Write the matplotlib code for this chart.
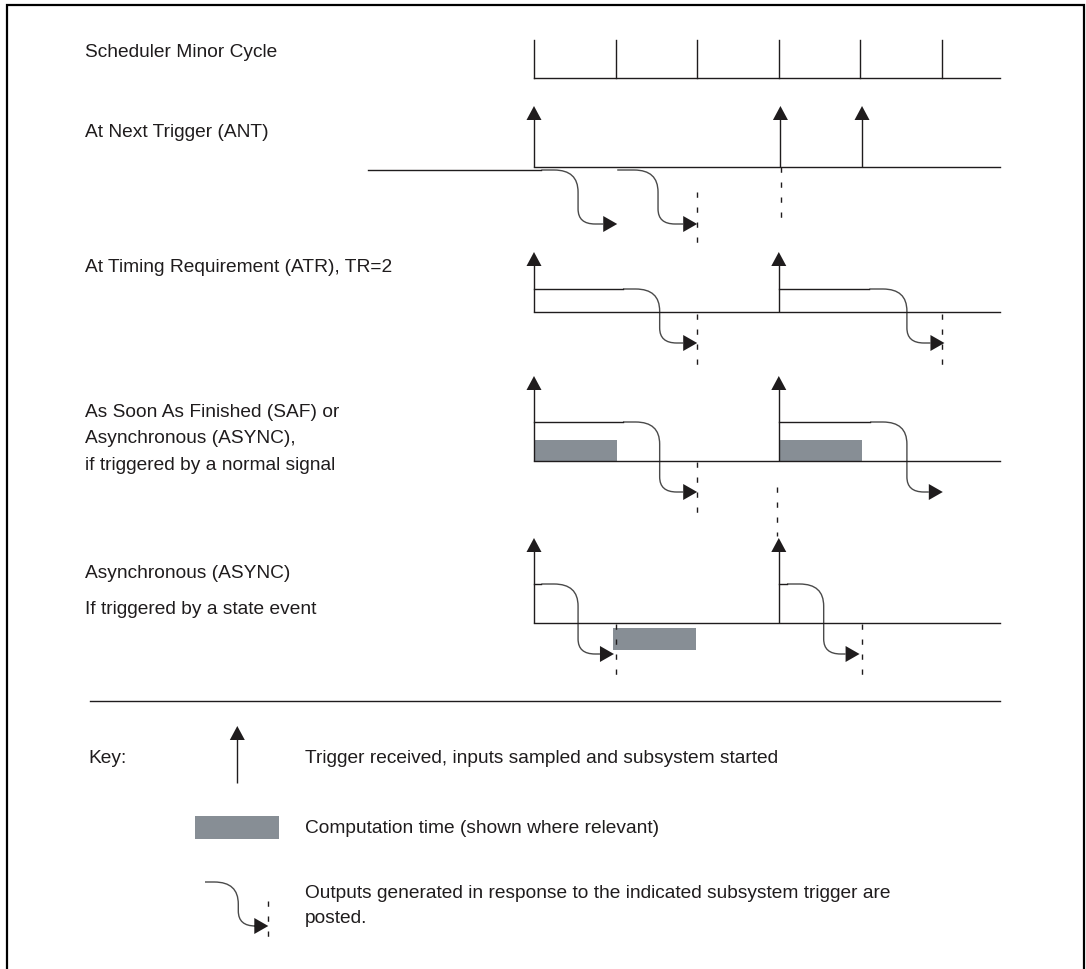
"""Subsystem trigger timing diagram (scheduler minor cycle vs trigger modes)."""

import matplotlib
matplotlib.use("Agg")
import matplotlib.pyplot as plt
from matplotlib.path import Path
from matplotlib.patches import PathPatch, Polygon, Rectangle

# x is in scheduler minor cycles (t=0 is the first cycle tick), y in pixels from the top
CYCLE_PX = 81.6
T0_PX = 534
INK = "#1f1c1d"
CURVE = "#4a4a4a"
BOX = "#878e95"
FONT = "Liberation Sans"
FS = 13.8

minor_cycle_ticks = [0, 1, 2, 3, 4, 5]
timeline_end = 5.71

row_labels = [
    ["Scheduler Minor Cycle"],
    ["At Next Trigger (ANT)"],
    ["At Timing Requirement (ATR), TR=2"],
    ["As Soon As Finished (SAF) or", "Asynchronous (ASYNC),", "if triggered by a normal signal"],
    ["Asynchronous (ASYNC)", "If triggered by a state event"],
]
label_baselines = [57, 137, 272, [417, 443, 470], [578, 614]]

# trigger times per mode
ant_triggers = [0, 3.02, 4.02]
atr_triggers = [0, 3]
saf_triggers = [0, 3]
async_triggers = [0, 3]

# outputs: (curve start, bend, arrow tip)
ant_outputs = [(0.09, 0.54, 1.02), (1.02, 1.52, 2.0)]
atr_outputs = [(1.09, 1.54, 2.0), (4.11, 4.57, 5.03)]
saf_outputs = [(1.09, 1.54, 2.0), (4.12, 4.57, 5.01)]
async_outputs = [(0.09, 0.54, 0.98), (3.1, 3.55, 3.99)]

# computation time bars: (start, end)
saf_compute = [(0, 1.02), (3, 4.02)]
async_compute = [(0.97, 1.98)]

# posting markers: (t, top, bottom)
ant_posts = [(2.0, 193, 252), (3.03, 168, 228)]
atr_posts = [(2.0, 315, 373), (5.0, 315, 373)]
saf_posts = [(2.0, 463, 520), (2.98, 488, 537)]
async_posts = [(1.01, 625, 685), (4.02, 625, 685)]

key_labels = [
    "Trigger received, inputs sampled and subsystem started",
    "Computation time (shown where relevant)",
    "Outputs generated in response to the indicated subsystem trigger are\nposted.",
]

HW_TRIG = 7.5 / CYCLE_PX
H_TRIG = 14
L_OUT = 14 / CYCLE_PX


def trigger(ax, t, y_base, y_tip):
    ax.plot([t, t], [y_base, y_tip + H_TRIG - 1], color=INK, lw=1.0, solid_capstyle="butt")
    ax.add_patch(Polygon([[t - HW_TRIG, y_tip + H_TRIG], [t + HW_TRIG, y_tip + H_TRIG], [t, y_tip]],
                         closed=True, color=INK, lw=0))


def output(ax, t0, tb, tip, y0, y1):
    rx1, ry1 = 24 / CYCLE_PX, 22
    rx2, ry2 = 17 / CYCLE_PX, 15
    verts = [(t0, y0), (tb - rx1, y0), (tb, y0), (tb, y0 + ry1), (tb, y1 - ry2),
             (tb, y1), (tb + rx2, y1), (tip - L_OUT, y1)]
    codes = [Path.MOVETO, Path.LINETO, Path.CURVE3, Path.CURVE3, Path.LINETO,
             Path.CURVE3, Path.CURVE3, Path.LINETO]
    ax.add_patch(PathPatch(Path(verts, codes), fill=False, ec=CURVE, lw=1.0))
    ax.add_patch(Polygon([[tip - L_OUT, y1 - 8], [tip - L_OUT, y1 + 8], [tip, y1]],
                         closed=True, color=INK, lw=0))


def post(ax, t, y_top, y_bot):
    ax.plot([t, t], [y_top, y_bot], color=INK, lw=1.0, dashes=(3.8, 7.0))


fig = plt.figure(figsize=(10.86, 9.70), dpi=100)
ax = fig.add_axes([0, 0, 1, 1])
ax.set_xlim(-T0_PX / CYCLE_PX, (1086 - T0_PX) / CYCLE_PX)
ax.set_ylim(970, 0)
ax.axis("off")

fig.add_artist(Rectangle((6.7 / 1086, -0.1), (1084 - 6.7) / 1086, 1.1 - 5.7 / 970,
                         transform=fig.transFigure, fill=False, ec="black", lw=1.6, clip_on=False))

# scheduler minor cycle
ax.plot([0, timeline_end], [79, 79], color=INK, lw=1.0)
for t in minor_cycle_ticks:
    ax.plot([t, t], [41, 79], color=INK, lw=1.0)

# ANT
ax.plot([0, timeline_end], [168, 168], color=INK, lw=1.0)
ax.plot([-2.03, ant_outputs[0][0]], [171, 171], color=INK, lw=1.0)
for t in ant_triggers:
    trigger(ax, t, 168, 107)
for o in ant_outputs:
    output(ax, *o, 171, 225)
for p in ant_posts:
    post(ax, *p)

# ATR
ax.plot([0, timeline_end], [313, 313], color=INK, lw=1.0)
for t, o in zip(atr_triggers, atr_outputs):
    trigger(ax, t, 313, 253)
    ax.plot([t, o[0]], [290, 290], color=INK, lw=1.0)
    output(ax, *o, 290, 344)
for p in atr_posts:
    post(ax, *p)

# SAF
for s, e in saf_compute:
    ax.add_patch(Rectangle((s, 441), e - s, 21, color=BOX, lw=0))
ax.plot([0, timeline_end], [462, 462], color=INK, lw=1.0)
for t, o in zip(saf_triggers, saf_outputs):
    trigger(ax, t, 462, 377)
    ax.plot([t, o[0]], [423, 423], color=INK, lw=1.0)
    output(ax, *o, 423, 493)
for p in saf_posts:
    post(ax, *p)

# ASYNC (state event)
for s, e in async_compute:
    ax.add_patch(Rectangle((s, 629), e - s, 22, color=BOX, lw=0))
ax.plot([0, timeline_end], [624, 624], color=INK, lw=1.0)
for t, o in zip(async_triggers, async_outputs):
    trigger(ax, t, 624, 539)
    ax.plot([t, o[0]], [585, 585], color=INK, lw=1.0)
    output(ax, *o, 585, 655)
for p in async_posts:
    post(ax, *p)

# row labels
label_x = (85 - T0_PX) / CYCLE_PX
for lines, ys in zip(row_labels, label_baselines):
    ys = ys if isinstance(ys, list) else [ys]
    for line, y in zip(lines, ys):
        ax.text(label_x, y, line, fontsize=FS, family=FONT, color=INK, va="baseline", ha="left")

# separator and key
ax.plot([(90 - T0_PX) / CYCLE_PX, timeline_end], [702, 702], color=INK, lw=1.0)
ax.text((88 - T0_PX) / CYCLE_PX, 763, "Key:", fontsize=FS, family=FONT, color=INK, va="baseline")

trigger(ax, (237.3 - T0_PX) / CYCLE_PX, 784, 727)
ax.add_patch(Rectangle(((195 - T0_PX) / CYCLE_PX, 817), 84 / CYCLE_PX, 23, color=BOX, lw=0))
output(ax, (205 - T0_PX) / CYCLE_PX, (238.3 - T0_PX) / CYCLE_PX, (268.3 - T0_PX) / CYCLE_PX, 883, 927)
post(ax, (268.3 - T0_PX) / CYCLE_PX, 902, 947)

key_x = (305 - T0_PX) / CYCLE_PX
ax.text(key_x, 763, key_labels[0], fontsize=FS, family=FONT, color=INK, va="baseline")
ax.text(key_x, 833, key_labels[1], fontsize=FS, family=FONT, color=INK, va="baseline")
ax.text(key_x, 898, key_labels[2].split("\n")[0], fontsize=FS, family=FONT, color=INK, va="baseline")
ax.text(key_x, 923, key_labels[2].split("\n")[1], fontsize=FS, family=FONT, color=INK, va="baseline")

fig.savefig("out.png", dpi=100)
